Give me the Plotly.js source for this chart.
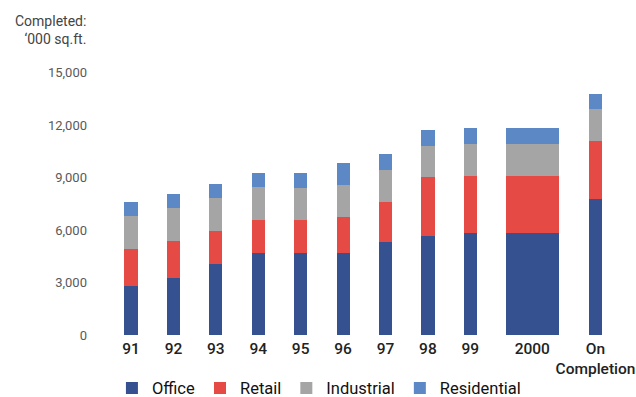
<!DOCTYPE html>
<html>
<head>
<meta charset="utf-8">
<script src="https://cdn.plot.ly/plotly-3.0.1.min.js"></script>
<style>html,body{margin:0;padding:0;background:#fff;}#chart{width:636px;height:397px;}</style>
</head>
<body>
<div id="chart"></div>
<script>
// Data (thousand sq.ft.)
const categories = ["91", "92", "93", "94", "95", "96", "97", "98", "99", "2000", "On<br>Completion"];
const office      = [2800, 3250, 4050, 4680, 4680, 4680, 5310, 5650, 5820, 5820, 7770];
const retail      = [2110, 2120, 1890, 1890, 1890, 2060, 2280, 3370, 3260, 3260, 3310];
const industrial  = [1890, 1880, 1880, 1880, 1830, 1830, 1830, 1770, 1820, 1820, 1820];
const residential = [ 800,  800,  800,  800,  850, 1250,  920,  910,  920,  920,  860];
const yTicks = [0, 3000, 6000, 9000, 12000, 15000];

// Layout: category slot positions and bar widths
const xPos   = [0, 1, 2, 3, 4, 5, 6, 7, 8, 9.46, 10.95];
const widths = [0.31, 0.31, 0.31, 0.31, 0.31, 0.31, 0.31, 0.31, 0.31, 1.25, 0.31];

const series = [
  {name: "Office", y: office, color: "#35518F"},
  {name: "Retail", y: retail, color: "#E64A45"},
  {name: "Industrial", y: industrial, color: "#A5A5A5"},
  {name: "Residential", y: residential, color: "#5D88C6"}
];

const traces = series.map(s => ({
  type: "bar",
  name: s.name,
  x: xPos,
  y: s.y,
  width: widths,
  marker: {color: s.color, line: {width: 0}},
  hoverinfo: "skip"
}));

const layout = {
  width: 636, height: 397,
  barmode: "stack",
  paper_bgcolor: "#fff", plot_bgcolor: "#fff",
  margin: {l: 92, r: 10, t: 60, b: 62, autoexpand: false},
  font: {family: "Roboto, sans-serif"},
  showlegend: true,
  legend: {
    orientation: "h", xref: "container", yref: "container",
    x: 0.176, xanchor: "left", y: 0.022, yanchor: "middle",
    font: {size: 16.5, color: "#111"}, traceorder: "normal"
  },
  xaxis: {
    range: [-0.92, 11.67],
    tickmode: "array", tickvals: xPos, ticktext: categories,
    ticklabelstandoff: 2,
    showgrid: false, zeroline: false, showline: false, ticks: "",
    tickfont: {size: 15.5, color: "#222", weight: 500},
    fixedrange: true
  },
  yaxis: {
    range: [0, 15714],
    tickmode: "array", tickvals: yTicks,
    tickformat: ",d",
    ticklabelstandoff: 4,
    showgrid: false, zeroline: false, showline: false, ticks: "",
    tickfont: {size: 13, color: "#595959"},
    fixedrange: true
  },
  annotations: [{
    xref: "paper", yref: "paper",
    x: -0.008, y: 1.0, xanchor: "right", yanchor: "bottom",
    align: "right",
    yshift: 11,
    text: "Completed:<br>\u2018000 sq.ft.",
    showarrow: false,
    font: {size: 14, color: "#444"}
  }]
};

Plotly.newPlot("chart", traces, layout, {displayModeBar: false, staticPlot: true});
</script>
</body>
</html>
